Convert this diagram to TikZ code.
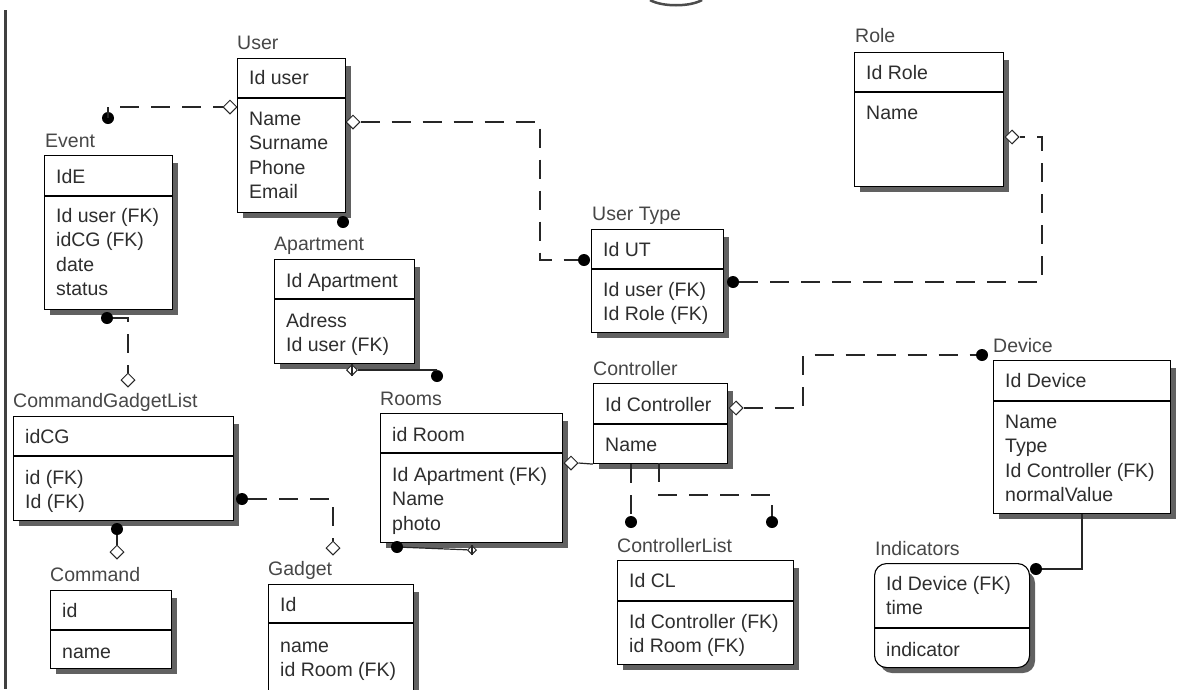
\documentclass[tikz,border=0pt]{standalone}
\usepackage{fontspec}
\setmainfont{Liberation Sans}
\usetikzlibrary{shapes.geometric}
\newcommand\attrs[1]{\vtop{\halign{##\hfil\cr#1\crcr}}}
\begin{document}
\begin{tikzpicture}[x=1pt,y=-1pt,
  ent/.style={draw=black, line width=1.1pt, fill=white, inner sep=0pt, anchor=north west},
  shd/.style={fill=black!62},
  txt/.style={anchor=base west, inner sep=0pt, text=black!82,
    font=\fontsize{19.5}{24.6}\selectfont},
  lbl/.style={anchor=base west, inner sep=0pt, text=black!72,
    font=\fontsize{19.5}{24.6}\selectfont},
  divline/.style={line width=1.1pt},
  conn/.style={line width=1.2pt, black!85},
  dsh/.style={line width=1.2pt, black!85, dash pattern=on 19pt off 12pt},
  dot/.style={circle, fill=black, inner sep=0pt, minimum size=12pt},
  odia/.style={diamond, draw=black!85, fill=white, line width=1pt, inner sep=0pt, minimum size=14pt},
  xdia/.style={diamond, draw=black!85, fill=white, line width=1pt, inner sep=0pt, minimum size=11pt},
]
\useasboundingbox (0,0) rectangle (1182,689);
\clip (0,0) rectangle (1182,689);
\fill[white] (0,0) rectangle (1182,689);

% left border line and top arc
\draw[line width=3pt, black!75] (5,10) -- (5,689);
\draw[line width=2.5pt, black!70] (650,0) .. controls (662,7) and (690,7) .. (702,0);

% ---------- User ----------
\fill[shd] (243,66) rectangle (351,218);
\node[ent, minimum width=108pt, minimum height=154pt] (user) at (237,58) {};
\draw[divline] (user.west |- 0,98) -- (user.east |- 0,98);
\node[lbl] (userL) at (237,49) {User};
\node[txt] (userK) at (249,84) {Id user};
\node[txt] (userA) at (249,125) {\attrs{Name\cr Surname\cr Phone\cr Email}};

% ---------- Event ----------
\fill[shd] (50,163) rectangle (178,315);
\node[ent, minimum width=128pt, minimum height=154pt] (event) at (44,155) {};
\draw[divline] (event.west |- 0,196) -- (event.east |- 0,196);
\node[lbl] (eventL) at (45,147) {Event};
\node[txt] (eventK) at (56,183) {IdE};
\node[txt] (eventA) at (56,222) {\attrs{Id user (FK)\cr idCG (FK)\cr date\cr status}};

% ---------- Role ----------
\fill[shd] (860,60) rectangle (1009,192);
\node[ent, minimum width=149pt, minimum height=134pt] (role) at (854,52) {};
\draw[divline] (role.west |- 0,92) -- (role.east |- 0,92);
\node[lbl] (roleL) at (855,42) {Role};
\node[txt] (roleK) at (866,79) {Id Role};
\node[txt] (roleA) at (866,119) {Name};

% ---------- User Type ----------
\fill[shd] (597,237) rectangle (729,338);
\node[ent, minimum width=132pt, minimum height=103pt] (utype) at (591,229) {};
\draw[divline] (utype.west |- 0,269) -- (utype.east |- 0,269);
\node[lbl] (utypeL) at (592,220) {User Type};
\node[txt] (utypeK) at (603,256) {Id UT};
\node[txt] (utypeA) at (603,296) {\attrs{Id user (FK)\cr Id Role (FK)}};

% ---------- Apartment ----------
\fill[shd] (280,267) rectangle (420,369);
\node[ent, minimum width=140pt, minimum height=104pt] (apt) at (274,259) {};
\draw[divline] (apt.west |- 0,299) -- (apt.east |- 0,299);
\node[lbl] (aptL) at (274,250) {Apartment};
\node[txt] (aptK) at (286,287) {Id Apartment};
\node[txt] (aptA) at (286,327) {\attrs{Adress\cr Id user (FK)}};

% ---------- Rooms ----------
\fill[shd] (386,421) rectangle (568,548);
\node[ent, minimum width=182pt, minimum height=129pt] (rooms) at (380,413) {};
\draw[divline] (rooms.west |- 0,453) -- (rooms.east |- 0,453);
\node[lbl] (roomsL) at (380,405) {Rooms};
\node[txt] (roomsK) at (392,441) {id Room};
\node[txt] (roomsA) at (392,481) {\attrs{Id Apartment (FK)\cr Name\cr photo}};

% ---------- Controller ----------
\fill[shd] (599,391) rectangle (733,469);
\node[ent, minimum width=134pt, minimum height=80pt] (ctrl) at (593,383) {};
\draw[divline] (ctrl.west |- 0,424) -- (ctrl.east |- 0,424);
\node[lbl] (ctrlL) at (593,375) {Controller};
\node[txt] (ctrlK) at (605,411) {Id Controller};
\node[txt] (ctrlA) at (605,451) {Name};

% ---------- ControllerList ----------
\fill[shd] (623,568) rectangle (799,670);
\node[ent, minimum width=176pt, minimum height=104pt] (clist) at (617,560) {};
\draw[divline] (clist.west |- 0,601) -- (clist.east |- 0,601);
\node[lbl] (clistL) at (617,552) {ControllerList};
\node[txt] (clistK) at (629,587) {Id CL};
\node[txt] (clistA) at (629,628) {\attrs{Id Controller (FK)\cr id Room (FK)}};

% ---------- Device ----------
\fill[shd] (999,368) rectangle (1176,519);
\node[ent, minimum width=177pt, minimum height=153pt] (device) at (993,360) {};
\draw[divline] (device.west |- 0,401) -- (device.east |- 0,401);
\node[lbl] (deviceL) at (993,352) {Device};
\node[txt] (deviceK) at (1005,387) {Id Device};
\node[txt] (deviceA) at (1005,428) {\attrs{Name\cr Type\cr Id Controller (FK)\cr normalValue}};

% ---------- Indicators ----------
\fill[shd, rounded corners=12pt] (880,571) rectangle (1035,673);
\node[ent, rounded corners=12pt, minimum width=155pt, minimum height=104pt] (ind) at (874,563) {};
\draw[divline] (ind.west |- 0,628) -- (ind.east |- 0,628);
\node[lbl] (indL) at (875,555) {Indicators};
\node[txt] (indK) at (886,590) {\attrs{Id Device (FK)\cr time}};
\node[txt] (indA) at (886,656) {indicator};

% ---------- CommandGadgetList ----------
\fill[shd] (19,424) rectangle (239,526);
\node[ent, minimum width=220pt, minimum height=104pt] (cgl) at (13,416) {};
\draw[divline] (cgl.west |- 0,456) -- (cgl.east |- 0,456);
\node[lbl] (cglL) at (13,407) {CommandGadgetList};
\node[txt] (cglK) at (25,443) {idCG};
\node[txt] (cglA) at (25,484) {\attrs{id (FK)\cr Id (FK)}};

% ---------- Command ----------
\fill[shd] (56,598) rectangle (177,674);
\node[ent, minimum width=121pt, minimum height=78pt] (cmd) at (50,590) {};
\draw[divline] (cmd.west |- 0,630) -- (cmd.east |- 0,630);
\node[lbl] (cmdL) at (50,581) {Command};
\node[txt] (cmdK) at (62,617) {id};
\node[txt] (cmdA) at (62,658) {name};

% ---------- Gadget ----------
\fill[shd] (274,592) rectangle (419,696);
\node[ent, minimum width=145pt, minimum height=106pt] (gadget) at (268,584) {};
\draw[divline] (gadget.west |- 0,623) -- (gadget.east |- 0,623);
\node[lbl] (gadgetL) at (268,575) {Gadget};
\node[txt] (gadgetK) at (280,611) {Id};
\node[txt] (gadgetA) at (280,652) {\attrs{name\cr id Room (FK)}};

% ================= connectors =================
% Event -- User
\node[dot] (d1) at (108,118) {};
\node[odia] (o1) at (230,107) {};
\coordinate (c1) at (108,107);
\draw[conn] (d1.center) -- (c1);
\draw[dsh] (c1) ++(12,0) -- (o1.west);

% User -- User Type
\node[odia] (o2) at (353,122) {};
\node[dot] (d2) at (584,260) {};
\coordinate (c2) at (540,122);
\draw[dsh] (o2.east) -- (c2) -- (c2 |- d2) -- (d2.west);

% User Type -- Role
\node[dot] (d3) at (733,282) {};
\node[odia] (o3) at (1012,137) {};
\coordinate (c3) at (1042,282);
\draw[dsh] (d3.east) -- (c3) -- (c3 |- o3) -- (o3.east);

% Controller -- Device
\node[odia] (o4) at (736,408) {};
\node[dot] (d4) at (982,355) {};
\coordinate (c4) at (803,408);
\draw[dsh] (o4.east) -- (c4) -- (c4 |- d4) -- (d4.west);

% Device -- Indicators
\node[dot] (d5) at (1036,569) {};
\draw[conn] (device.south) |- (d5.east);

% Rooms -- Controller
\node[odia] (o6) at (571,463) {};
\draw[conn] (o6.east) -- (ctrl.south west);

% Controller -- ControllerList
\node[dot] (d7) at (631,522) {};
\node[dot] (d8) at (772,522) {};
\draw[dsh] (d7 |- ctrl.south) -- (d7.north);
\coordinate (c8a) at (659,463);
\coordinate (c8b) at (659,495);
\draw[dsh] (c8a) -- (c8b) -- (c8b -| d8) -- (d8.north);

% Event -- CommandGadgetList
\node[dot] (d9) at (107,318) {};
\node[odia] (o9) at (128,380) {};
\draw[dsh] (d9.east) -| (o9.north);

% CommandGadgetList -- Command
\node[dot] (d10) at (117,529) {};
\node[odia] (o10) at (117,552) {};
\draw[conn] (d10) -- (o10);

% CommandGadgetList -- Gadget
\node[dot] (d11) at (242,499) {};
\node[odia] (o11) at (333,548) {};
\draw[dsh] (d11.east) -| (o11.north);

% User -- Apartment
\node[dot] (d12) at (343,222) {};

% Apartment -- Rooms
\node[xdia] (x13) at (352,370) {};
\node[dot] (d13) at (437,376) {};
\draw[conn] (x13) -- (d13 |- x13) -- (d13);
\draw[conn] (x13.north) -- (x13.south);

% Rooms bottom
\node[dot] (d14) at (397,547) {};
\node[xdia, minimum size=9pt] (x14) at (472,550) {};
\draw[conn] (d14) -- (x14);
\draw[conn] (x14.north) -- (x14.south);
\end{tikzpicture}
\end{document}
